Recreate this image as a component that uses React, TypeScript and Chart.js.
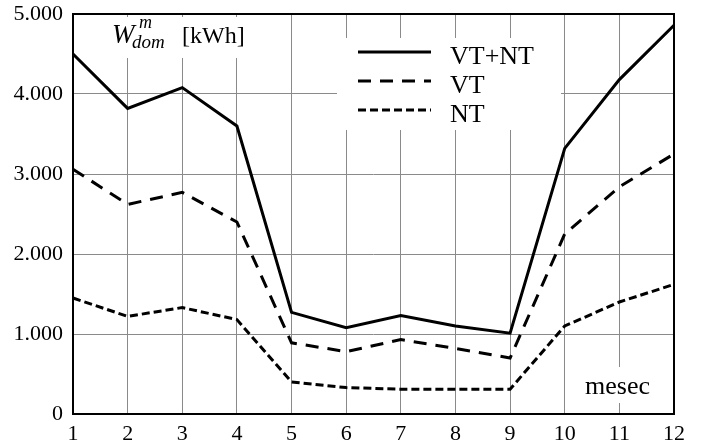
import React, { useEffect, useRef } from 'react';
import { Chart, registerables } from 'chart.js';

Chart.register(...registerables);

const months = ['1', '2', '3', '4', '5', '6', '7', '8', '9', '10', '11', '12'];
const vtnt = [4500, 3820, 4080, 3600, 1270, 1080, 1230, 1100, 1010, 3320, 4180, 4860];
const vt = [3060, 2620, 2770, 2400, 890, 780, 930, 820, 700, 2250, 2840, 3250];
const nt = [1450, 1220, 1330, 1180, 400, 330, 310, 310, 310, 1100, 1400, 1620];
const yTickLabels = ['0', '1.000', '2.000', '3.000', '4.000', '5.000'];
const seriesNames = ['VT+NT', 'VT', 'NT'];
const xTitle = 'mesec';

const SERIF = '"Liberation Serif", "Times New Roman", serif';

const overlay = {
  id: 'overlay',
  beforeDatasetsDraw(chart: any) {
    const ctx = chart.ctx;
    const a = chart.chartArea;
    ctx.save();
    ctx.fillStyle = '#ffffff';
    ctx.fillRect(a.left + 2, a.top + 3, 188, 41);
    ctx.fillRect(337, a.top + 24, 224, 92);
    ctx.fillRect(580, 367, 76, 36);
    ctx.restore();
  },
  afterDatasetsDraw(chart: any) {
    const ctx = chart.ctx;
    const a = chart.chartArea;
    ctx.save();
    ctx.strokeStyle = '#000';
    ctx.lineWidth = 2;
    ctx.setLineDash([]);
    ctx.strokeRect(a.left, a.top, a.right - a.left, a.bottom - a.top);

    // legend
    chart.data.datasets.forEach((ds: any, i: number) => {
      const y = 52 + i * 29;
      ctx.save();
      ctx.setLineDash(ds.borderDash || []);
      ctx.lineWidth = ds.borderWidth;
      ctx.strokeStyle = ds.borderColor;
      ctx.beginPath();
      ctx.moveTo(358, y);
      ctx.lineTo(431, y);
      ctx.stroke();
      ctx.restore();
      ctx.fillStyle = '#000';
      ctx.font = `26px ${SERIF}`;
      ctx.textBaseline = 'alphabetic';
      ctx.textAlign = 'left';
      ctx.fillText(ds.label, 450, y + 12);
    });

    // y-axis title W^m_dom [kWh]
    ctx.fillStyle = '#000';
    ctx.textBaseline = 'alphabetic';
    ctx.textAlign = 'left';
    ctx.font = `italic 27px ${SERIF}`;
    ctx.fillText('W', 112, 43);
    ctx.font = `italic 18px ${SERIF}`;
    ctx.fillText('m', 139, 28);
    ctx.font = `italic 19px ${SERIF}`;
    ctx.fillText('dom', 132, 48);
    ctx.font = `24px ${SERIF}`;
    ctx.fillText('[kWh]', 182, 43);

    // x-axis title
    ctx.font = `26px ${SERIF}`;
    ctx.fillText(xTitle, 585, 394);
    ctx.restore();
  },
};

export default function App() {
  const ref = useRef<HTMLCanvasElement>(null);
  useEffect(() => {
    if (!ref.current) return;
    const tickFont = { family: SERIF, size: 22 };
    const chart = new Chart(ref.current, {
      type: 'line',
      data: {
        labels: months,
        datasets: [
          { label: seriesNames[0], data: vtnt, borderColor: '#000', borderWidth: 3, borderDash: [], fill: false },
          { label: seriesNames[1], data: vt, borderColor: '#000', borderWidth: 3, borderDash: [13, 9], fill: false },
          { label: seriesNames[2], data: nt, borderColor: '#000', borderWidth: 3, borderDash: [8, 4], fill: false },
        ],
      },
      options: {
        responsive: false,
        animation: false,
        layout: { padding: { top: 14, right: 36, left: 0, bottom: 0 } },
        plugins: { legend: { display: false }, tooltip: { enabled: false } },
        elements: { point: { radius: 0 }, line: { tension: 0, borderCapStyle: 'butt', borderJoinStyle: 'miter' } },
        scales: {
          x: {
            grid: { color: '#8a8a8a', lineWidth: 1, drawTicks: false },
            border: { display: false },
            ticks: { color: '#000', font: tickFont, padding: 7, maxRotation: 0, autoSkip: false },
            afterFit(s: any) {
              s.height = 26;
              s.paddingLeft = 0;
              s.paddingRight = 0;
            },
          },
          y: {
            min: 0,
            max: 5000,
            grid: { color: '#8a8a8a', lineWidth: 1, drawTicks: false },
            border: { display: false },
            ticks: {
              stepSize: 1000,
              color: '#000',
              font: tickFont,
              padding: 10,
              callback: (v: any) => yTickLabels[Math.round(Number(v) / 1000)],
            },
            afterFit(s: any) {
              s.width = 73;
              s.paddingTop = 0;
              s.paddingBottom = 0;
            },
          },
        },
      } as any,
      plugins: [overlay],
    });
    return () => chart.destroy();
  }, []);
  return (
    <div style={{ position: 'fixed', left: 0, top: 0, width: 710, height: 440, background: '#fff' }}>
      <canvas ref={ref} width={710} height={440} style={{ display: 'block' }} />
    </div>
  );
}
